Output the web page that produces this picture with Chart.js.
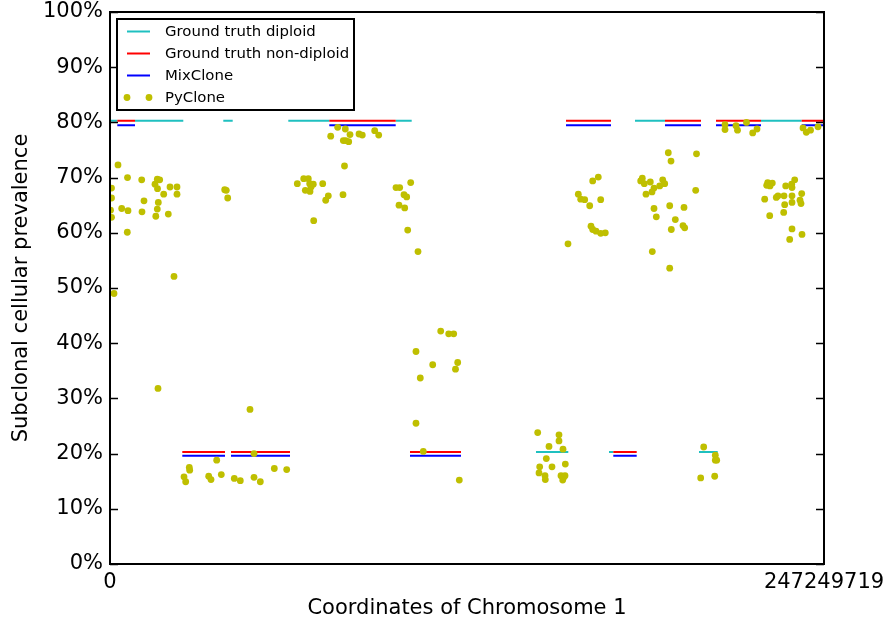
<!DOCTYPE html>
<html><head><meta charset="utf-8">
<script src="https://cdn.jsdelivr.net/npm/chart.js@4.4.1/dist/chart.umd.min.js"></script>
<style>html,body{margin:0;padding:0;background:#fff}canvas{display:block}</style>
</head><body>
<canvas id="c" width="888" height="624"></canvas>
<script>
// ---------------- DATA ----------------
const CHROM_LENGTH = 247249719;
const xTickValues = [0, CHROM_LENGTH];
const yTickValues = [0, 10, 20, 30, 40, 50, 60, 70, 80, 90, 100];
const xTitle = 'Coordinates of Chromosome 1';
const yTitle = 'Subclonal cellular prevalence';
const seriesNames = ['Ground truth diploid', 'Ground truth non-diploid', 'MixClone', 'PyClone'];

// Ground truth diploid segments (start, end, prevalence %)
const diploidStart = [0, 8657200, 39234400, 61743100, 98934500, 181801200, 225433500, 147518700, 172797700, 203963600];
const diploidEnd   = [2527900, 25382900, 42489500, 75940900, 104475100, 192189800, 239527400, 158703800, 174286800, 210439200];
const diploidLevel = [80.3, 80.3, 80.3, 80.3, 80.3, 80.3, 80.3, 20.3, 20.3, 20.3];

// Ground truth non-diploid segments
const nonDiploidStart = [2527900, 75940900, 157907300, 192189800, 209850500, 239527400, 25036600, 41900800, 103886400, 174286800];
const nonDiploidEnd   = [8657200, 98934500, 173490300, 204656200, 225433500, CHROM_LENGTH, 39823100, 62331800, 121547100, 182389900];
const nonDiploidLevel = [80.3, 80.3, 80.3, 80.3, 80.3, 80.3, 20.3, 20.3, 20.3, 20.3];

// MixClone estimated segments
const mixStart = [2527900, 75940900, 157907300, 192189800, 209850500, 239527400, 25036600, 41900800, 103886400, 174286800];
const mixEnd   = [8657200, 98934500, 173490300, 204656200, 225433500, CHROM_LENGTH, 39823100, 62331800, 121547100, 182389900];
const mixLevel = [79.5, 79.5, 79.5, 79.5, 79.5, 79.5, 19.6, 19.6, 19.6, 19.6];

// PyClone estimates: [coordinate, prevalence %]
const pyclonePoints = [
 [2.77e6,72.3],[6.06e6,70.0],[10.98e6,69.6],[16.38e6,69.7],[17.21e6,69.6],[15.58e6,68.8],[16.45e6,68.0],[20.78e6,68.3],
 [23.2e6,68.3],[18.6e6,67.0],[23.2e6,67.0],[0.52e6,68.1],[0.52e6,66.3],[11.77e6,65.8],[16.73e6,65.5],[0.17e6,64.1],
 [4.05e6,64.4],[6.23e6,64.0],[11.08e6,63.8],[16.38e6,64.3],[20.19e6,63.4],[0.52e6,62.8],[15.86e6,63.0],[5.99e6,60.1],
 [22.16e6,52.1],[1.39e6,49.0],[39.72e6,67.8],[40.27e6,67.7],[40.76e6,66.3],[16.62e6,31.8],[48.48e6,28.0],
 [25.63e6,15.8],[26.21e6,14.9],[27.46e6,17.5],[27.6e6,17.0],[36.95e6,18.8],[34.18e6,15.9],[34.98e6,15.3],[38.54e6,16.2],
 [43.04e6,15.5],[45.12e6,15.1],[49.87e6,20.0],[49.87e6,15.7],[52.05e6,14.9],[56.9e6,17.3],[61.19e6,17.1],
 [78.85e6,79.1],[81.48e6,78.8],[76.43e6,77.5],[83.11e6,77.8],[86.23e6,77.9],[87.37e6,77.7],[91.66e6,78.5],[93.05e6,77.7],
 [80.79e6,76.7],[81.62e6,76.7],[82.66e6,76.5],[81.2e6,72.1],
 [64.86e6,68.9],[67.08e6,69.8],[68.67e6,69.8],[69.15e6,68.9],[70.4e6,68.8],[73.66e6,68.9],[67.63e6,67.7],[69.26e6,67.5],
 [69.6e6,68.3],[75.6e6,66.7],[74.7e6,65.9],[80.69e6,66.9],[70.54e6,62.2],
 [99.04e6,68.2],[100.32e6,68.2],[104.13e6,69.1],[101.81e6,66.9],[102.74e6,66.5],[100.08e6,65.0],[102.05e6,64.5],[103.09e6,60.5],
 [106.66e6,56.6],[114.52e6,42.2],[117.29e6,41.7],[119.02e6,41.7],[105.96e6,38.5],[111.75e6,36.1],[120.4e6,36.5],[119.64e6,35.3],
 [107.45e6,33.7],[105.96e6,25.5],[108.49e6,20.4],[120.96e6,15.2],
 [148.11e6,23.8],[155.48e6,23.4],[155.48e6,22.3],[152.02e6,21.3],[156.87e6,20.8],[151.09e6,19.1],[148.8e6,17.6],[153.06e6,17.6],
 [157.67e6,18.1],[148.56e6,16.5],[150.64e6,16.0],[150.74e6,15.3],[156.18e6,16.0],[157.56e6,16.0],[156.77e6,15.2],[156.97e6,15.6],
 [158.6e6,58.0],[162.17e6,67.0],[163.0e6,66.1],[164.38e6,66.0],[167.15e6,69.4],[169.09e6,70.1],[169.92e6,66.0],[166.12e6,64.9],
 [166.56e6,61.2],[167.15e6,60.6],[168.3e6,60.3],[169.92e6,59.9],[171.52e6,60.0],
 [193.33e6,74.5],[194.27e6,73.0],[203.1e6,74.3],[202.82e6,67.7],[183.77e6,69.4],[184.33e6,69.9],[185.02e6,68.9],[187.1e6,69.2],
 [185.61e6,67.0],[187.69e6,67.4],[188.38e6,68.1],[190.35e6,68.5],[191.39e6,69.6],[192.09e6,68.9],[188.38e6,64.4],[189.18e6,62.9],
 [193.82e6,64.9],[198.77e6,64.6],[195.76e6,62.4],[194.37e6,60.6],[198.42e6,61.3],[199.01e6,60.9],[187.79e6,56.6],[193.82e6,53.6],
 [205.59e6,21.2],[209.61e6,19.7],[209.61e6,18.8],[210.09e6,18.8],[204.55e6,15.6],[209.4e6,15.9],
 [212.97e6,79.6],[212.97e6,78.7],[216.78e6,79.4],[217.3e6,78.6],[220.41e6,80.0],[222.56e6,78.1],[224.05e6,78.8],
 [239.98e6,79.0],[241.12e6,78.2],[242.58e6,78.6],[245.17e6,79.2],
 [227.75e6,69.1],[229.35e6,69.0],[227.41e6,68.6],[228.55e6,68.5],[226.71e6,66.1],[230.73e6,66.4],[231.32e6,66.7],[233.4e6,66.7],
 [233.99e6,68.5],[236.17e6,68.2],[236.06e6,68.8],[237.1e6,69.6],[239.53e6,67.1],[236.17e6,66.7],[238.94e6,65.9],[239.29e6,65.3],
 [236.17e6,65.5],[233.64e6,65.1],[228.45e6,63.1],[233.29e6,63.7],[236.17e6,60.7],[239.63e6,59.7],[235.37e6,58.8]
];

// ---------------- BUILD ----------------
function segmentsToPoints(starts, ends, levels) {
  const pts = [];
  for (let i = 0; i < starts.length; i++) {
    pts.push({x: starts[i], y: levels[i]}, {x: ends[i], y: levels[i]}, {x: ends[i], y: null});
  }
  return pts;
}

const COLORS = {diploid: '#1fc0c0', nondiploid: '#ff0000', mix: '#0000ff', py: '#bfbf00'};
const FONT = 'DejaVu Sans';
Chart.defaults.font.family = FONT;
Chart.defaults.color = '#000';

const lineCommon = {pointRadius: 0, borderWidth: 2, tension: 0, spanGaps: false, fill: false, borderCapStyle: 'butt'};

const framePlugin = {
  id: 'frame',
  afterDatasetsDraw(chart) {
    const {ctx, chartArea: a, scales: {x, y}} = chart;
    ctx.save();
    ctx.strokeStyle = '#000';
    ctx.lineWidth = 1.5;
    ctx.beginPath();
    y.ticks.forEach(t => {
      const py = Math.round(y.getPixelForValue(t.value)) + 0.5;
      ctx.moveTo(a.left, py); ctx.lineTo(a.left + 8, py);
      ctx.moveTo(a.right, py); ctx.lineTo(a.right - 8, py);
    });
    x.ticks.forEach(t => {
      const px = x.getPixelForValue(t.value);
      ctx.moveTo(px, a.bottom); ctx.lineTo(px, a.bottom - 8);
      ctx.moveTo(px, a.top); ctx.lineTo(px, a.top + 8);
    });
    ctx.stroke();
    ctx.lineWidth = 2;
    ctx.strokeRect(a.left, a.top, a.right - a.left, a.bottom - a.top);
    ctx.restore();
  }
};

const legendPlugin = {
  id: 'boxLegend',
  afterDraw(chart) {
    const {ctx, chartArea: a} = chart;
    const bx = a.left + 7, by = a.top + 7, bw = 237, bh = 91;
    ctx.save();
    ctx.fillStyle = '#fff';
    ctx.fillRect(bx, by, bw, bh);
    ctx.strokeStyle = '#000';
    ctx.lineWidth = 2;
    ctx.strokeRect(bx, by, bw, bh);
    ctx.font = '14.9px "' + FONT + '"';
    ctx.textBaseline = 'middle';
    chart.data.datasets.forEach((ds, i) => {
      const cy = by + 12.5 + i * 22;
      if (ds.showLine === false) {
        ctx.fillStyle = ds.backgroundColor;
        [bx + 10, bx + 32].forEach(cx => { ctx.beginPath(); ctx.arc(cx, cy, 3.4, 0, Math.PI * 2); ctx.fill(); });
      } else {
        ctx.strokeStyle = ds.borderColor;
        ctx.lineWidth = 2;
        ctx.beginPath(); ctx.moveTo(bx + 10, cy); ctx.lineTo(bx + 33, cy); ctx.stroke();
      }
      ctx.fillStyle = '#000';
      ctx.fillText(ds.label, bx + 48, cy + 1);
    });
    ctx.restore();
  }
};

new Chart(document.getElementById('c'), {
  type: 'line',
  data: {
    datasets: [
      Object.assign({label: seriesNames[0], data: segmentsToPoints(diploidStart, diploidEnd, diploidLevel), borderColor: COLORS.diploid, backgroundColor: COLORS.diploid, order: 3}, lineCommon),
      Object.assign({label: seriesNames[1], data: segmentsToPoints(nonDiploidStart, nonDiploidEnd, nonDiploidLevel), borderColor: COLORS.nondiploid, backgroundColor: COLORS.nondiploid, order: 2}, lineCommon),
      Object.assign({label: seriesNames[2], data: segmentsToPoints(mixStart, mixEnd, mixLevel), borderColor: COLORS.mix, backgroundColor: COLORS.mix, order: 1}, lineCommon),
      {label: seriesNames[3], data: pyclonePoints.map(p => ({x: p[0], y: p[1]})), showLine: false,
       pointRadius: 3.4, pointBorderWidth: 0, borderWidth: 0, pointBackgroundColor: COLORS.py, backgroundColor: COLORS.py, borderColor: COLORS.py, order: 0}
    ]
  },
  options: {
    responsive: false, animation: false, devicePixelRatio: 1,
    layout: {padding: {left: 0, right: 64, top: 12, bottom: 0}},
    plugins: {legend: {display: false}, tooltip: {enabled: false}},
    scales: {
      x: {
        type: 'linear', min: 0, max: CHROM_LENGTH,
        afterBuildTicks: s => { s.ticks = xTickValues.map(v => ({value: v})); },
        afterFit: s => { s.height = 60; s.paddingLeft = 0; s.paddingRight = 0; },
        grid: {display: false, drawTicks: false}, border: {display: false},
        ticks: {padding: 6, color: '#000', font: {size: 21}, maxRotation: 0, autoSkip: false, callback: v => String(v)},
        title: {display: true, text: xTitle, color: '#000', font: {size: 21}, padding: {top: 0, bottom: 3}}
      },
      y: {
        type: 'linear', min: 0, max: 100,
        afterBuildTicks: s => { s.ticks = yTickValues.map(v => ({value: v})); },
        afterFit: s => { s.width = 110; s.paddingTop = 0; s.paddingBottom = 0; },
        grid: {display: false, drawTicks: false}, border: {display: false},
        ticks: {padding: 7, color: '#000', font: {size: 21}, callback: v => v + '%'},
        title: {display: true, text: yTitle, color: '#000', font: {size: 21}, padding: {top: 9, bottom: 0}}
      }
    }
  },
  plugins: [framePlugin, legendPlugin]
});
</script>
</body></html>
